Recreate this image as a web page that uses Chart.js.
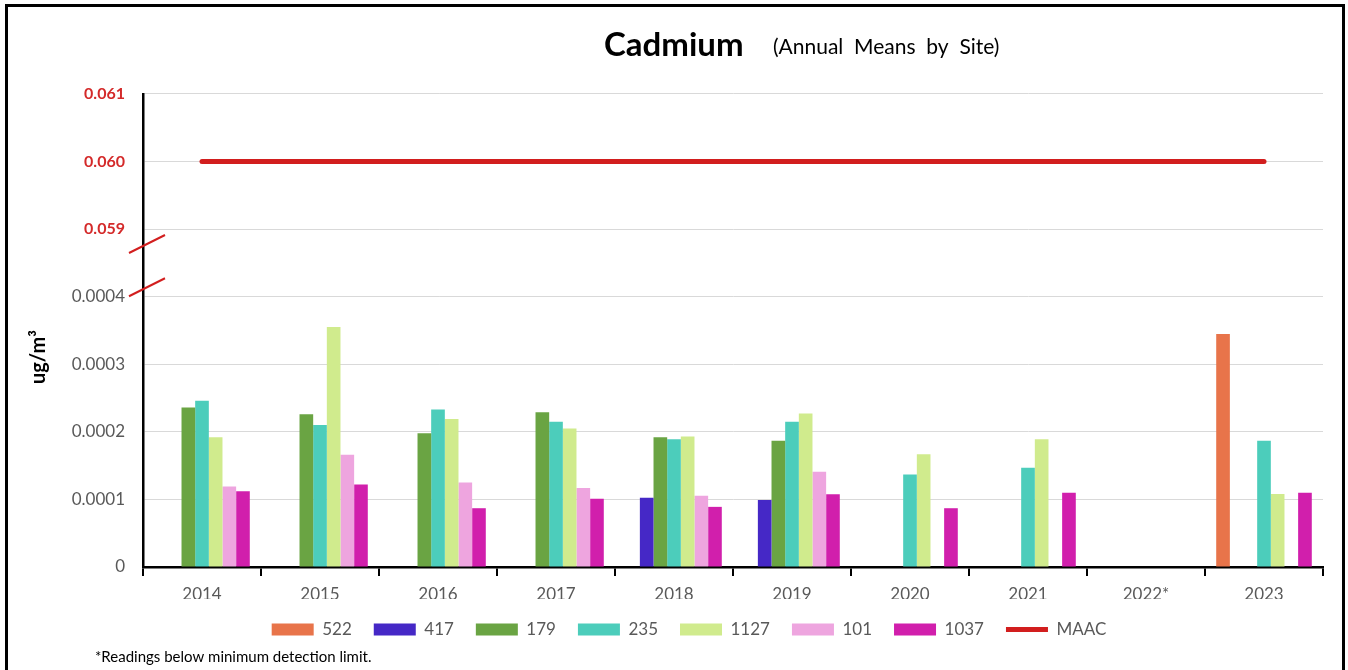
<!DOCTYPE html>
<html>
<head>
<meta charset="utf-8">
<script src="https://cdn.jsdelivr.net/npm/chart.js@4/dist/chart.umd.min.js"></script>
<style>
  html, body { margin: 0; padding: 0; background: #ffffff; }
  #wrap { position: relative; width: 1348px; height: 670px; }
</style>
</head>
<body>
<div id="wrap"><canvas id="c"></canvas></div>
<script>
// ---- data ----
const categories = ['2014', '2015', '2016', '2017', '2018', '2019', '2020', '2021', '2022*', '2023'];
const s522  = [null, null, null, null, null, null, null, null, null, 0.000345];
const s417  = [null, null, null, null, 0.0001025, 0.000099, null, null, null, null];
const s179  = [0.000236, 0.000226, 0.000198, 0.000229, 0.000192, 0.000187, null, null, null, null];
const s235  = [0.000246, 0.000210, 0.000233, 0.000215, 0.000189, 0.000215, 0.000137, 0.000147, null, 0.000187];
const s1127 = [0.000192, 0.000355, 0.000219, 0.000205, 0.000193, 0.000227, 0.000167, 0.000189, null, 0.000108];
const s101  = [0.000119, 0.000166, 0.000125, 0.000117, 0.0001055, 0.000141, null, null, null, null];
const s1037 = [0.000112, 0.000122, 0.000087, 0.000101, 0.000089, 0.0001075, 0.000087, 0.000110, null, 0.000110];
const maac  = [0.060, 0.060, 0.060, 0.060, 0.060, 0.060, 0.060, 0.060, 0.060, 0.060];
const seriesNames = ['522', '417', '179', '235', '1127', '101', '1037'];
const seriesColors = ['#E8744A', '#4528C6', '#6AA443', '#4CCDBB', '#D0EB8D', '#EEA5DF', '#D11FAC'];
const yTickValues = [0, 0.0001, 0.0002, 0.0003, 0.0004, 0.059, 0.060, 0.061];
const yTickLabels = ['0', '0.0001', '0.0002', '0.0003', '0.0004', '0.059', '0.060', '0.061'];

// broken axis: lower segment 0..0.0004 -> 0..4, upper 0.059..0.061 -> 5..7
const LOW_MAX = 0.0004, HIGH_MIN = 0.059;
function toAxis(v) {
  if (v === null || v === undefined) return null;
  if (v <= LOW_MAX) return v / 0.0001;
  return 5 + (v - HIGH_MIN) / 0.001;
}

const FONT = 'Lato, "Open Sans", sans-serif';
const barSeries = [s522, s417, s179, s235, s1127, s101, s1037];

const datasets = barSeries.map((arr, i) => ({
  type: 'bar',
  label: seriesNames[i],
  data: arr.map(toAxis),
  backgroundColor: seriesColors[i],
  borderWidth: 0,
  categoryPercentage: 0.81,
  barPercentage: 1.0
}));
datasets.push({
  type: 'line',
  label: 'MAAC',
  data: maac.map(toAxis),
  borderColor: '#D21E1E',
  backgroundColor: '#D21E1E',
  borderWidth: 5,
  borderCapStyle: 'round',
  pointRadius: 0,
  fill: false
});

const decor = {
  id: 'decor',
  afterDraw(chart) {
    const ctx = chart.ctx;
    const y = chart.scales.y;
    const ca = chart.chartArea;
    ctx.save();
    // title
    ctx.fillStyle = '#000000';
    ctx.textBaseline = 'alphabetic';
    ctx.textAlign = 'left';
    ctx.font = 'bold 33px ' + FONT;
    ctx.fillText('Cadmium', 604, 56);
    ctx.font = '21px ' + FONT;
    ctx.fillText('(Annual  Means  by  Site)', 773, 54);
    // y axis title
    ctx.save();
    ctx.translate(39, 357);
    ctx.rotate(-Math.PI / 2);
    ctx.textAlign = 'center';
    ctx.textBaseline = 'middle';
    ctx.font = 'bold 20px ' + FONT;
    ctx.fillText('ug/m³', 0, 0);
    ctx.restore();
    // axis break marks
    ctx.strokeStyle = '#D21E1E';
    ctx.lineWidth = 2;
    const x0 = ca.left;
    [4.14, 4.78].forEach(u => {
      const py = y.getPixelForValue(u);
      ctx.beginPath();
      ctx.moveTo(x0 - 14, py + 9);
      ctx.lineTo(x0 + 22, py - 9);
      ctx.stroke();
    });
    // footnote
    ctx.fillStyle = '#000000';
    ctx.font = '15px ' + FONT;
    ctx.textAlign = 'left';
    ctx.textBaseline = 'middle';
    ctx.fillText('*Readings below minimum detection limit.', 95, 657);
    // frame
    ctx.strokeStyle = '#000000';
    ctx.lineWidth = 3;
    ctx.strokeRect(6.5, 5.5, 1337, 700);
    ctx.restore();
  }
};

new Chart(document.getElementById('c'), {
  data: { labels: categories, datasets: datasets },
  options: {
    responsive: true,
    maintainAspectRatio: false,
    animation: false,
    devicePixelRatio: 1,
    layout: { padding: { top: 94, left: 55, right: 25, bottom: 22 } },
    plugins: {
      title: { display: false },
      tooltip: { enabled: false },
      legend: {
        position: 'bottom',
        labels: {
          usePointStyle: true,
          pointStyleWidth: 42,
          boxHeight: 12,
          padding: 22,
          color: '#595959',
          font: { family: FONT, size: 17 },
          sort: (a, b) => a.datasetIndex - b.datasetIndex,
          generateLabels(chart) {
            const items = Chart.defaults.plugins.legend.labels.generateLabels(chart);
            items.forEach(it => {
              const ds = chart.data.datasets[it.datasetIndex];
              it.pointStyle = ds.type === 'line' ? 'line' : 'rect';
            });
            return items;
          }
        }
      }
    },
    scales: {
      x: {
        grid: { offset: true, drawOnChartArea: false, drawTicks: true, tickLength: 9, color: '#000000', lineWidth: 2 },
        border: { color: '#000000', width: 2.5 },
        ticks: { color: '#595959', font: { family: FONT, size: 17 }, padding: 8 },
        afterFit(scale) { scale.height = 32; }
      },
      y: {
        min: 0,
        max: 7,
        afterBuildTicks(scale) { scale.ticks = yTickValues.map(v => ({ value: toAxis(v) })); },
        afterFit(scale) { scale.width = 88; },
        grid: { color: '#D9D9D9', lineWidth: 1, drawTicks: false },
        border: { color: '#000000', width: 2.5 },
        ticks: {
          padding: 18,
          callback: (value, index) => yTickLabels[index],
          color: (c) => (c.index >= 5 ? '#D42A2A' : '#595959'),
          font: (c) => (c.index >= 5 ? { family: FONT, size: 16, weight: 'bold' } : { family: FONT, size: 17 })
        }
      }
    }
  },
  plugins: [decor]
});
</script>
</body>
</html>
